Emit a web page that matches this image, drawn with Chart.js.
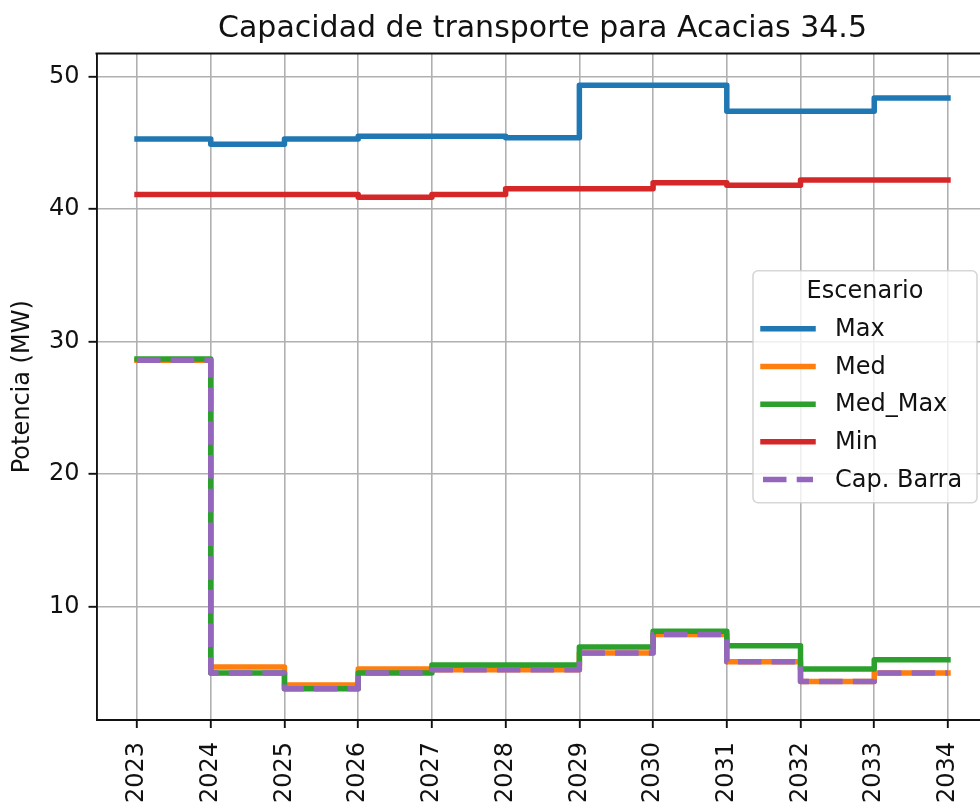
<!DOCTYPE html>
<html lang="es">
<head>
  <meta charset="UTF-8">
  <title>Capacidad de transporte para Acacias 34.5</title>
  <script src="https://cdn.jsdelivr.net/npm/chart.js"></script>
  <style>
    html, body {
      margin: 0;
      padding: 0;
      background: #fff;
      overflow: hidden;
    }
    #wrap {
      width: 1000px;
      height: 802px;
    }
  </style>
</head>
<body>
  <div id="wrap">
    <canvas id="capChart" width="1000" height="802"></canvas>
  </div>

  <script>
    const years = [2023, 2024, 2025, 2026, 2027, 2028, 2029, 2030, 2031, 2032, 2033, 2034];
    const maxVals    = [45.3, 44.9, 45.3, 45.5, 45.5, 45.4, 49.35, 49.35, 47.4, 47.4, 48.4, 48.4];
    const medVals    = [28.6, 5.45, 4.1, 5.3, 5.25, 5.25, 6.5, 7.9, 5.85, 4.35, 5.0, 5.0];
    const medMaxVals = [28.7, 5.0, 3.8, 5.0, 5.6, 5.6, 6.95, 8.15, 7.05, 5.3, 6.0, 6.0];
    const minVals    = [41.1, 41.1, 41.1, 40.9, 41.1, 41.55, 41.55, 42.0, 41.8, 42.2, 42.2, 42.2];
    const capVals    = [28.6, 5.0, 3.8, 5.0, 5.25, 5.25, 6.5, 7.9, 5.85, 4.35, 5.0, 5.0];
    const yTicks = [10, 20, 30, 40, 50];

    const FONT = "'DejaVu Sans', 'Liberation Sans', sans-serif";

    function toPoints(vals) {
      return years.map((x, i) => ({ x: x, y: vals[i] }));
    }

    function series(label, vals, color, order, dash) {
      return {
        label: label,
        data: toPoints(vals),
        borderColor: color,
        backgroundColor: color,
        borderWidth: 5.5,
        borderDash: dash || [],
        borderCapStyle: dash ? 'butt' : 'square',
        borderJoinStyle: 'round',
        stepped: 'before',
        pointRadius: 0,
        fill: false,
        order: order
      };
    }

    // top spine (matplotlib draws a full frame)
    const frameTop = {
      id: 'frameTop',
      afterDraw(chart) {
        const { ctx, chartArea } = chart;
        ctx.save();
        ctx.strokeStyle = '#111';
        ctx.lineWidth = 1.9;
        ctx.beginPath();
        ctx.moveTo(chartArea.left - 1, chartArea.top);
        ctx.lineTo(chartArea.right + 1, chartArea.top);
        ctx.stroke();
        ctx.restore();
      }
    };

    // matplotlib style legend, 'center right'
    const mplLegend = {
      id: 'mplLegend',
      afterDraw(chart) {
        const { ctx, chartArea } = chart;
        const sets = chart.data.datasets;
        const w = 224, h = 232;
        const left = chartArea.right - 11.5 - w;
        const top = (chartArea.top + chartArea.bottom) / 2 - h / 2;
        ctx.save();
        ctx.beginPath();
        ctx.roundRect(left, top, w, h, 5);
        ctx.fillStyle = 'rgba(255,255,255,0.8)';
        ctx.fill();
        ctx.strokeStyle = 'rgba(204,204,204,0.8)';
        ctx.lineWidth = 1.6;
        ctx.stroke();

        ctx.font = '24px ' + FONT;
        ctx.fillStyle = '#111';
        ctx.textBaseline = 'middle';
        ctx.textAlign = 'center';
        ctx.fillText('Escenario', left + w / 2, top + 21);

        ctx.textAlign = 'left';
        sets.forEach((ds, i) => {
          const y = top + 58 + i * 37.7;
          ctx.strokeStyle = ds.borderColor;
          ctx.lineWidth = 5.5;
          ctx.lineCap = ds.borderDash.length ? 'butt' : 'square';
          ctx.setLineDash(ds.borderDash);
          ctx.beginPath();
          ctx.moveTo(left + 10, y);
          ctx.lineTo(left + 60, y);
          ctx.stroke();
          ctx.setLineDash([]);
          ctx.fillStyle = '#111';
          ctx.fillText(ds.label, left + 82, y + 1);
        });
        ctx.restore();
      }
    };

    const ctx = document.getElementById('capChart').getContext('2d');
    new Chart(ctx, {
      type: 'line',
      data: {
        datasets: [
          series('Max', maxVals, '#1f77b4', 4),
          series('Med', medVals, '#ff7f0e', 3),
          series('Med_Max', medMaxVals, '#2ca02c', 2),
          series('Min', minVals, '#d62728', 1),
          series('Cap. Barra', capVals, '#9467bd', 0, [23.5, 10.2])
        ]
      },
      options: {
        responsive: false,
        animation: false,
        layout: { padding: { left: 0, right: 11.5, top: 0, bottom: 0 } },
        plugins: {
          legend: { display: false },
          tooltip: { enabled: false },
          title: {
            display: true,
            fullSize: false,
            text: 'Capacidad de transporte para Acacias 34.5',
            color: '#111',
            font: { family: FONT, size: 30, weight: 'normal' },
            padding: { top: 11, bottom: 6.5 }
          }
        },
        scales: {
          x: {
            type: 'linear',
            min: 2022.45,
            max: 2034.55,
            afterBuildTicks: axis => { axis.ticks = years.map(v => ({ value: v })); },
            afterFit: axis => { axis.height = 82; },
            ticks: {
              color: '#111',
              font: { family: FONT, size: 24 },
              minRotation: 90,
              maxRotation: 90,
              padding: 14,
              autoSkip: false,
              callback: v => String(v)
            },
            grid: {
              color: '#b0b0b0',
              lineWidth: 1.6,
              tickColor: '#111',
              tickLength: 8,
              tickWidth: 1.9
            },
            border: { display: true, color: '#111', width: 1.9 }
          },
          y: {
            min: 1.45,
            max: 51.75,
            afterBuildTicks: axis => { axis.ticks = yTicks.map(v => ({ value: v })); },
            afterFit: axis => { axis.width = 96.5; },
            ticks: {
              color: '#111',
              font: { family: FONT, size: 24 },
              padding: 9
            },
            title: {
              display: true,
              text: 'Potencia (MW)',
              color: '#111',
              font: { family: FONT, size: 24 },
              padding: { top: 8, bottom: 4 }
            },
            grid: {
              color: '#b0b0b0',
              lineWidth: 1.6,
              tickColor: '#111',
              tickLength: 8,
              tickWidth: 1.9
            },
            border: { display: true, color: '#111', width: 1.9 }
          }
        }
      },
      plugins: [frameTop, mplLegend]
    });
  </script>
</body>
</html>
